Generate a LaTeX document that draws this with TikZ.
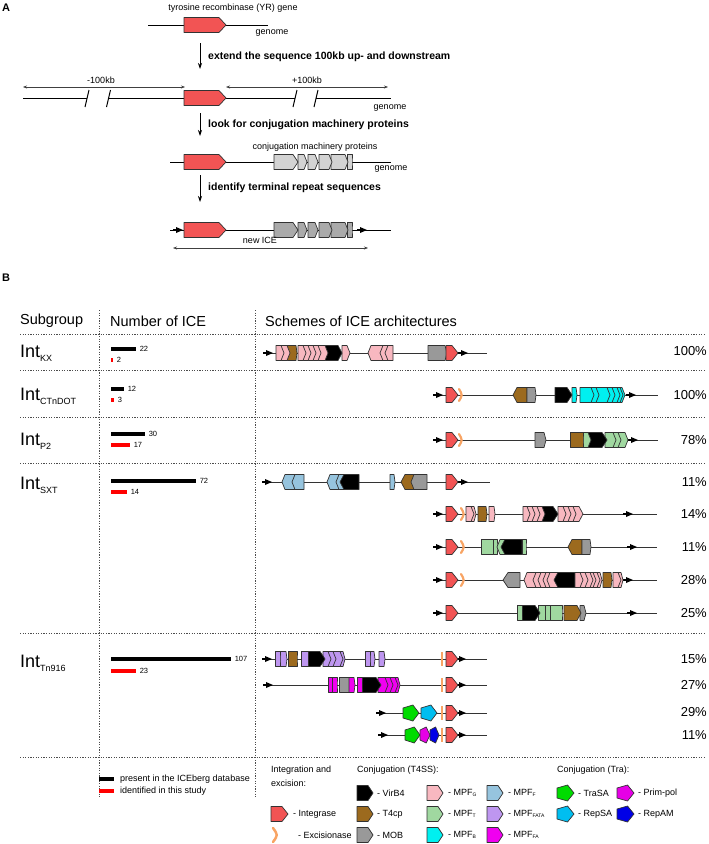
\documentclass[tikz,border=0pt]{standalone}
\usepackage{fontspec}
\setmainfont{Liberation Sans}
\usetikzlibrary{arrows.meta,positioning}

\definecolor{intcol}{RGB}{242,84,84}
\definecolor{excol}{RGB}{248,164,100}
\definecolor{mpfg}{RGB}{248,184,192}
\definecolor{tcp}{RGB}{156,106,30}
\definecolor{mob}{RGB}{153,153,153}
\definecolor{mpff}{RGB}{150,196,222}
\definecolor{mpft}{RGB}{160,216,160}
\definecolor{mpfb}{RGB}{0,240,240}
\definecolor{mpffata}{RGB}{190,150,240}
\definecolor{mpffa}{RGB}{240,0,240}
\definecolor{trasa}{RGB}{0,220,0}
\definecolor{repsa}{RGB}{0,190,240}
\definecolor{primpol}{RGB}{230,0,230}
\definecolor{repam}{RGB}{0,0,230}
\definecolor{conjA}{RGB}{211,211,211}
\definecolor{conjB}{RGB}{170,170,170}
\definecolor{edge}{RGB}{51,51,51}

\tikzset{
  gene/.style={draw=edge, line width=0.7pt, line join=round},
  backbone/.style={edge, line width=0.9pt},
  genome/.style={black, line width=1pt},
  sepline/.style={black!70, line width=1pt, dash pattern=on 1.1pt off 1.5pt},
  steparrow/.style={-{Stealth[length=6pt,width=4pt]}, line width=0.8pt},
  dimarrow/.style={{Stealth[length=4pt,width=3pt]}-{Stealth[length=4pt,width=3pt]}, line width=0.5pt, black!75},
  steptxt/.style={font=\bfseries\fontsize{10.5}{12}\selectfont, anchor=west, inner sep=0},
  small/.style={font=\fontsize{9}{10}\selectfont, inner sep=0},
  hdr/.style={font=\fontsize{14.5}{16}\selectfont, anchor=west, inner sep=0},
  grplab/.style={font=\fontsize{18}{20}\selectfont, anchor=west, inner sep=0},
  pct/.style={font=\fontsize{13}{15}\selectfont, anchor=east, inner sep=0},
  cnt/.style={font=\fontsize{7.5}{8}\selectfont, text=black, anchor=west, inner sep=1.5pt},
  leg/.style={font=\fontsize{9}{10}\selectfont, anchor=west, inner sep=0},
  cbar/.style={line width=4.5pt}
}

\def\ry{0}
% forward gene: body #2..#3, tip #1 long
\newcommand{\gf}[4][3]{\draw[gene,fill=#4] (#2,\ry-7.5) -- (#3,\ry-7.5) -- (#3+#1,\ry) -- (#3,\ry+7.5) -- (#2,\ry+7.5) -- cycle;}
% reverse gene: tip at #2-#1, body #2..#3
\newcommand{\gr}[4][3]{\draw[gene,fill=#4] (#2-#1,\ry) -- (#2,\ry-7.5) -- (#3,\ry-7.5) -- (#3,\ry+7.5) -- (#2,\ry+7.5) -- cycle;}
% Tra proteins
\newcommand{\tra}[3]{\draw[gene,fill=#3] (#2,\ry) -- ({#1+0.618*(#2-#1)},\ry-8) -- (#1,\ry-5) -- (#1,\ry+5) -- ({#1+0.618*(#2-#1)},\ry+8) -- cycle;}
\newcommand{\integ}{\gf[6]{446}{452}{intcol}}
\newcommand{\rep}[1]{\draw[line width=1.5pt] (#1-10,\ry) -- (#1-5,\ry); \fill[black] (#1,\ry) -- (#1-7,\ry-3) -- (#1-7,\ry+3) -- cycle;}
\newcommand{\exc}[1]{\draw[excol, line width=2.2pt, line cap=round] (#1-1,\ry-6) .. controls (#1+2.5,\ry) .. (#1-1,\ry+6);}
\newcommand{\excbar}[1]{\draw[excol, line width=2.4pt] (#1,\ry-7) -- (#1,\ry+7);}
\newcommand{\intsub}[1]{Int\raisebox{-4pt}{\fontsize{9}{10}\selectfont #1}}
\newcommand{\lsub}[1]{\raisebox{-1.5pt}{\fontsize{5}{6}\selectfont #1}}

\begin{document}
\begin{tikzpicture}[x=1pt, y=-1pt]
  \useasboundingbox (0,0) rectangle (709,844);

  %% panel A
  \node[anchor=west, font=\bfseries\fontsize{11}{12}\selectfont, inner sep=0] (lblA) at (2,8) {A};
  \node[small] (yrgene) at (233,8) {tyrosine recombinase (YR) gene};
  \def\ry{25}
  \draw[genome] (148,\ry) -- (268,\ry);
  \gf[7]{184}{219}{intcol}
  \node[small] (gen1) at (272,33) {genome};
  \coordinate (a1s) at (200,43); \coordinate (a1e) at (200,69);
  \draw[steparrow] (a1s) -- (a1e);
  \node[steptxt] (step1) at (208,57) {extend the sequence 100kb up- and downstream};

  \coordinate (up1) at (23,87); \coordinate (up2) at (185,87);
  \coordinate (dn1) at (226,87); \coordinate (dn2) at (388,87);
  \draw[dimarrow] (up1) -- (up2);
  \draw[dimarrow] (dn1) -- (dn2);
  \node[small] (minus) at (101,80) {-100kb};
  \node[small] (plus) at (307,80) {+100kb};
  \def\ry{98}
  \draw[genome] (23,\ry) -- (87,\ry) (108.5,\ry) -- (185,\ry) (226,\ry) -- (295,\ry) (316,\ry) -- (391,\ry);
  \draw[genome] (85,107) -- (89,90) (106.5,107) -- (110.5,90) (293,107) -- (297,90) (314,107) -- (318,90);
  \gf[7]{184}{219}{intcol}
  \node[small] (gen2) at (390,108) {genome};
  \coordinate (a2s) at (200,113); \coordinate (a2e) at (200,136);
  \draw[steparrow] (a2s) -- (a2e);
  \node[steptxt] (step2) at (208,125) {look for conjugation machinery proteins};

  \node[small] (cmp) at (315,147) {conjugation machinery proteins};
  \def\ry{162}
  \draw[genome] (170,\ry) -- (391,\ry);
  \gf[7]{184}{219}{intcol}
  \gf[0]{347}{352}{conjA} \gf{331}{345}{conjA} \gf{319}{329}{conjA}
  \gf{308}{315}{conjA} \gf{298}{304}{conjA} \gf[5]{274}{293}{conjA}
  \node[small] (gen3) at (391,169) {genome};
  \coordinate (a3s) at (200,175); \coordinate (a3e) at (200,202);
  \draw[steparrow] (a3s) -- (a3e);
  \node[steptxt] (step3) at (208,188) {identify terminal repeat sequences};

  \def\ry{230}
  \draw[genome] (170,\ry) -- (391,\ry);
  \rep{183} \rep{367}
  \gf[7]{184}{219}{intcol}
  \gf[0]{347}{352}{conjB} \gf{331}{345}{conjB} \gf{319}{329}{conjB}
  \gf{308}{315}{conjB} \gf{298}{304}{conjB} \gf[5]{274}{293}{conjB}
  \node[small] (newice) at (260,240) {new ICE};
  \coordinate (ice1) at (173,248); \coordinate (ice2) at (368,248);
  \draw[dimarrow] (ice1) -- (ice2);

  %% panel B: table
  \node[anchor=west, font=\bfseries\fontsize{11}{12}\selectfont, inner sep=0] (lblB) at (2,278) {B};
  \node[hdr] (hsub) at (20,321) {Subgroup};
  \node[hdr] (hnum) at (110,321) {Number of ICE};
  \node[hdr] (hsch) at (265,321) {Schemes of ICE architectures};
  \foreach \yy in {334,370,417,463,633,757} {\draw[sepline] (20,\yy) -- (706,\yy);}
  \foreach \xx in {99,255} {\draw[sepline] (\xx,310) -- (\xx,798);}

  \node[grplab] (ikx) at (20,353) {\intsub{KX}};
  \node[grplab] (ictn) at (20,396) {\intsub{CTnDOT}};
  \node[grplab] (ip2) at (20,441) {\intsub{P2}};
  \node[grplab] (isxt) at (20,485) {\intsub{SXT}};
  \node[grplab] (itn) at (20,663) {\intsub{Tn916}};

  \draw[cbar, black] (111,349) -- (136,349) node[cnt] (n1) {22};
  \draw[cbar, red] (111,360) -- (113,360) node[cnt] (n2) {2};
  \draw[cbar, black] (111,389) -- (124,389) node[cnt] (n3) {12};
  \draw[cbar, red] (111,400) -- (114,400) node[cnt] (n4) {3};
  \draw[cbar, black] (111,434) -- (145,434) node[cnt] (n5) {30};
  \draw[cbar, red] (111,445) -- (130,445) node[cnt] (n6) {17};
  \draw[cbar, black] (111,481) -- (196,481) node[cnt] (n7) {72};
  \draw[cbar, red] (111,492) -- (127,492) node[cnt] (n8) {14};
  \draw[cbar, black] (111,659) -- (231,659) node[cnt] (n9) {107};
  \draw[cbar, red] (111,671) -- (136,671) node[cnt] (n10) {23};

  \node[pct] (p1) at (707,351) {100\%};
  \node[pct] (p2) at (707,395) {100\%};
  \node[pct] (p3) at (707,440) {78\%};
  \node[pct] (p4) at (707,482) {11\%};
  \node[pct] (p5) at (707,514) {14\%};
  \node[pct] (p6) at (707,547) {11\%};
  \node[pct] (p7) at (707,580) {28\%};
  \node[pct] (p8) at (707,613) {25\%};
  \node[pct] (p9) at (707,659) {15\%};
  \node[pct] (p10) at (707,685) {27\%};
  \node[pct] (p11) at (707,712) {29\%};
  \node[pct] (p12) at (707,735) {11\%};

  %% Int KX
  \def\ry{353}
  \draw[backbone] (263,\ry) -- (487,\ry);
  \rep{273} \rep{468}
  \gf{342}{347}{mpfg}
  \gf[4]{325}{338}{black}
  \foreach \a/\b in {318/325,313/318,308/313,303/308,298/303} {\gf{\a}{\b}{mpfg}}
  \gf[1]{287}{296}{tcp}
  \gf{281}{287}{mpfg} \gf{276}{281}{mpfg}
  \gr{371}{383}{mpfg} \gr{383}{388}{mpfg} \gr{388}{393}{mpfg}
  \gf[2]{428}{445}{mob}
  \integ

  %% Int CTnDOT
  \def\ry{395}
  \draw[backbone] (436,\ry) -- (658,\ry);
  \rep{443} \rep{636}
  \integ \exc{460}
  \gr[4]{517}{527}{tcp} \gf[1]{527}{535}{mob}
  \foreach \a/\b in {620/622,617/620,612/617,607/612,596/607,591/596,580/591} {\gf{\a}{\b}{mpfb}}
  \gf[1]{572}{576}{mpfb}
  \gf[5]{555}{567}{black}

  %% Int P2
  \def\ry{440}
  \draw[backbone] (436,\ry) -- (658,\ry);
  \rep{443} \rep{638}
  \integ \exc{460}
  \gf[2]{535}{544}{mob}
  \foreach \a/\b in {618/625,613/618,605/613} {\gf{\a}{\b}{mpft}}
  \gf[5]{588}{602}{black}
  \gf{583}{588}{mpft}
  \gf[0]{570}{583}{tcp}

  %% Int SXT
  \def\ry{482}
  \draw[backbone] (263,\ry) -- (490,\ry);
  \rep{272} \rep{468}
  \gr{285}{295}{mpff} \gr{295}{304}{mpff}
  \gr{330}{339}{mpff} \gr{339}{344}{mpff} \gr[4]{344}{359}{black}
  \gf[1]{390}{394}{mpff}
  \gr[4]{405}{414}{tcp} \gr{414}{427}{mob}
  \integ

  \def\ry{514}
  \draw[backbone] (436,\ry) -- (657,\ry);
  \rep{443} \rep{633}
  \integ \exc{462}
  \gf[2]{471}{474}{mpfg} \gf{466}{471}{mpfg}
  \gf[1]{478}{486}{tcp}
  \gf[1]{489}{494}{mpfg}
  \gf[4]{573}{579}{mpfg}
  \foreach \a/\b in {568/573,563/568,558/563} {\gf{\a}{\b}{mpfg}}
  \gf[5]{542}{553}{black}
  \foreach \a/\b in {537/542,532/537,527/532,523/527} {\gf{\a}{\b}{mpfg}}

  \def\ry{547}
  \draw[backbone] (436,\ry) -- (657,\ry);
  \rep{443} \rep{637}
  \integ \exc{462}
  \gf[0]{481}{493}{mpft} \gf[0]{493}{497}{mpft}
  \gr{500}{505}{mpft} \gr[4]{505}{522}{black}
  \gf[0]{522}{526}{mpft}
  \gr[4]{572}{582}{tcp} \gf[1]{582}{590}{mob}

  \def\ry{580}
  \draw[backbone] (436,\ry) -- (657,\ry);
  \rep{443} \rep{633}
  \integ \exc{462}
  \gr[5]{508}{520}{mob}
  \gr{527}{536}{mpfg} \gr{536}{541}{mpfg} \gr{541}{546}{mpfg}
  \gr{546}{550}{mpfg} \gr{550}{558}{mpfg} \gr[4]{558}{575}{black}
  \gf[2]{597}{600}{mpfg}
  \foreach \a/\b in {593/597,590/593,585/590,580/585,575/580} {\gf{\a}{\b}{mpfg}}
  \gf[1]{603}{611}{tcp}
  \gf[2]{618}{621}{mpfg} \gf{613}{618}{mpfg}

  \def\ry{613}
  \draw[backbone] (436,\ry) -- (657,\ry);
  \rep{443} \rep{637}
  \integ
  \gf[0]{550}{562}{mpft} \gf[0]{545}{550}{mpft} \gf[0]{538}{545}{mpft}
  \gf[5]{522}{535}{black}
  \gf[0]{517}{522}{mpft}
  \gf[2]{580}{584}{mob} \gf[4]{564}{577}{tcp}

  %% Int Tn916
  \def\ry{659}
  \draw[backbone] (263,\ry) -- (487,\ry);
  \rep{272} \rep{466}
  \gf[1]{280}{286}{mpffata} \gf[0]{275}{280}{mpffata}
  \gf[0]{288}{297}{tcp}
  \gf[2]{340}{343}{mpffata}
  \foreach \a/\b in {333/340,328/333,323/328} {\gf{\a}{\b}{mpffata}}
  \gf[5]{308}{320}{black}
  \gf[0]{301}{308}{mpffata}
  \gf[1]{370}{374}{mpffata} \gf[0]{365}{370}{mpffata}
  \gf[1]{379}{384}{mpffata}
  \excbar{442} \integ

  \def\ry{685}
  \draw[backbone] (265,\ry) -- (487,\ry);
  \rep{273} \rep{466}
  \gf[0]{332}{337}{mpffa} \gf[0]{328}{332}{mpffa}
  \gf[0]{339}{349}{mob}
  \gf[1]{349}{354}{mpffa}
  \gf[2]{395}{398}{mpffa}
  \foreach \a/\b in {390/395,385/390,378/385} {\gf{\a}{\b}{mpffa}}
  \gf[5]{362}{376}{black}
  \gf[0]{357}{362}{mpffa}
  \excbar{442} \integ

  \def\ry{713}
  \draw[backbone] (379,\ry) -- (487,\ry);
  \rep{386} \rep{466}
  \tra{403}{419}{trasa} \tra{421}{437}{repsa}
  \excbar{442} \integ

  \def\ry{735}
  \draw[backbone] (379,\ry) -- (487,\ry);
  \rep{388} \rep{466}
  \tra{405}{420}{trasa} \tra{420}{430}{primpol} \tra{430}{439}{repam}
  \excbar{442} \integ

  %% legend
  \draw[cbar, black] (99,779) -- (114,779);
  \draw[cbar, red] (99,791) -- (114,791);
  \node[leg] (lice) at (120,779) {present in the ICEberg database};
  \node[leg] (lstudy) at (120,791) {identified in this study};
  \node[leg] (lint1) at (271,770) {Integration and};
  \node[leg] (lint2) at (271,783) {excision:};
  \node[leg] (lt4ss) at (357,770) {Conjugation (T4SS):};
  \node[leg] (ltra) at (557,770) {Conjugation (Tra):};

  \def\ry{793}
  \gf[5]{357}{368}{black}   \node[leg] (lvirb4) at (377,\ry) {- VirB4};
  \gf[5]{427}{438}{mpfg}    \node[leg] (lmpfg) at (448,\ry) {- MPF\lsub{G}};
  \gf[5]{487}{498}{mpff}    \node[leg] (lmpff) at (508,\ry) {- MPF\lsub{F}};
  \tra{557}{574}{trasa}     \node[leg] (ltrasa) at (578,\ry) {- TraSA};
  \tra{617}{634}{primpol}   \node[leg] (lprim) at (638,\ry) {- Prim-pol};

  \def\ry{814}
  \gf[6]{271}{282}{intcol}  \node[leg] (linteg) at (293,\ry) {- Integrase};
  \gf[5]{357}{368}{tcp}     \node[leg] (lt4cp) at (377,\ry) {- T4cp};
  \gf[5]{427}{438}{mpft}    \node[leg] (lmpft) at (448,\ry) {- MPF\lsub{T}};
  \gf[5]{487}{498}{mpffata} \node[leg] (lmpffata) at (508,\ry) {- MPF\lsub{FATA}};
  \tra{557}{574}{repsa}     \node[leg] (lrepsa) at (578,\ry) {- RepSA};
  \tra{617}{634}{repam}     \node[leg] (lrepam) at (638,\ry) {- RepAM};

  \def\ry{835}
  \draw[excol, line width=2.5pt, line cap=round] (273,828) .. controls (278,835) .. (273,842);
  \node[leg] (lexc) at (298,\ry) {- Excisionase};
  \gf[5]{357}{368}{mob}     \node[leg] (lmob) at (377,\ry) {- MOB};
  \gf[5]{427}{438}{mpfb}    \node[leg] (lmpfb) at (448,\ry) {- MPF\lsub{B}};
  \gf[5]{487}{498}{mpffa}   \node[leg] (lmpffa) at (508,\ry) {- MPF\lsub{FA}};
\end{tikzpicture}
\end{document}
